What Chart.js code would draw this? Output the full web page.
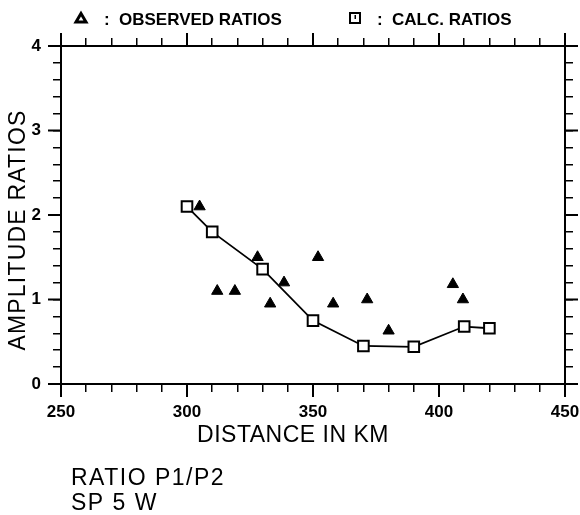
<!DOCTYPE html>
<html>
<head>
<meta charset="utf-8">
<script src="https://cdn.jsdelivr.net/npm/chart.js@4.4.1/dist/chart.umd.min.js"></script>
<style>
  html, body { margin: 0; padding: 0; background: #fff; }
  #wrap { width: 580px; height: 515px; }
</style>
</head>
<body>
<div id="wrap"><canvas id="grafico" width="580" height="515"></canvas></div>
<script>
// observed amplitude ratios (triangles)
const distObs = [305, 312, 319, 328, 333, 338.5, 352, 358, 371.5, 380, 405.5, 409.5];
const ratioObs = [2.1, 1.1, 1.1, 1.5, 0.95, 1.2, 1.5, 0.95, 1.0, 0.63, 1.18, 1.0];

// calculated ratios (squares joined by a line)
const distCalc = [300, 310, 330, 350, 370, 390, 410, 420];
const ratioCalc = [2.1, 1.8, 1.36, 0.75, 0.45, 0.44, 0.68, 0.66];

const xTicks = [250, 300, 350, 400, 450];
const yTicks = [0, 1, 2, 3, 4];

const NEGRO = "#000";
const FUENTE = "'Liberation Sans', Arial, sans-serif";

function esMayor(lista, v) {
  return lista.some(t => Math.abs(t - v) < 1e-6);
}

function fijarAncho(w) {
  return scale => { scale.width = w; scale.paddingTop = 0; scale.paddingBottom = 0; };
}
function fijarAlto(h) {
  return scale => { scale.height = h; scale.paddingLeft = 0; scale.paddingRight = 0; };
}

const rejilla = {
  drawOnChartArea: false,
  tickLength: 8,
  lineWidth: 1.5,
  color: NEGRO
};
const borde = { display: true, color: NEGRO, width: 2 };

// long ticks, legend and free texts
const marcos = {
  id: "marcos",
  afterDraw(chart) {
    const ctx = chart.ctx;
    const { left, right, top, bottom } = chart.chartArea;
    const sx = chart.scales.x;
    const sy = chart.scales.y;

    ctx.save();
    ctx.strokeStyle = NEGRO;
    ctx.fillStyle = NEGRO;
    ctx.lineWidth = 2;
    ctx.beginPath();
    xTicks.forEach(v => {
      const px = sx.getPixelForValue(v);
      ctx.moveTo(px, bottom); ctx.lineTo(px, bottom + 13);
      ctx.moveTo(px, top); ctx.lineTo(px, top - 13);
    });
    yTicks.forEach(v => {
      const py = sy.getPixelForValue(v);
      ctx.moveTo(left, py); ctx.lineTo(left - 13, py);
      ctx.moveTo(right, py); ctx.lineTo(right + 13, py);
    });
    ctx.stroke();

    // legend
    ctx.lineWidth = 3;
    ctx.lineJoin = "miter";
    ctx.beginPath();
    ctx.moveTo(81, 13.5); ctx.lineTo(86, 22); ctx.lineTo(76, 22); ctx.closePath();
    ctx.stroke();
    ctx.lineWidth = 2;
    ctx.strokeRect(350, 13, 10, 10);
    ctx.fillRect(354.5, 15, 1.5, 4);

    ctx.font = "bold 17px " + FUENTE;
    ctx.textBaseline = "alphabetic";
    ctx.textAlign = "left";
    ctx.fillText(":", 104, 25);
    ctx.fillText("OBSERVED RATIOS", 119, 25);
    ctx.fillText(":", 377, 25);
    ctx.fillText("CALC. RATIOS", 392, 25);

    // axis titles
    ctx.font = "23px " + FUENTE;
    ctx.textAlign = "center";
    ctx.textBaseline = "middle";
    ctx.letterSpacing = "0.5px";
    ctx.fillText("DISTANCE IN KM", 293, 436);

    ctx.save();
    ctx.letterSpacing = "1.2px";
    ctx.translate(19, 230);
    ctx.rotate(-Math.PI / 2);
    ctx.fillText("AMPLITUDE RATIOS", 0, 0);
    ctx.restore();

    // footnote
    ctx.textAlign = "left";
    ctx.letterSpacing = "1.5px";
    ctx.fillText("RATIO P1/P2", 71, 479);
    ctx.fillText("SP 5 W", 71, 504);
    ctx.restore();
  }
};

const ctx = document.getElementById("grafico").getContext("2d");

const grafico = new Chart(ctx, {
  type: "scatter",
  data: {
    datasets: [{
      label: "CALC. RATIOS",
      data: distCalc.map((d, i) => ({ x: d, y: ratioCalc[i] })),
      showLine: true,
      borderColor: NEGRO,
      borderWidth: 1.8,
      pointStyle: "rect",
      pointRadius: 7.5,
      pointBorderWidth: 2,
      pointBorderColor: NEGRO,
      pointBackgroundColor: "#fff",
      order: 2
    }, {
      label: "OBSERVED RATIOS",
      data: distObs.map((d, i) => ({ x: d, y: ratioObs[i] })),
      pointStyle: "triangle",
      pointRadius: 6.5,
      pointBorderWidth: 1,
      pointBorderColor: NEGRO,
      pointBackgroundColor: NEGRO,
      order: 1
    }]
  },
  options: {
    responsive: false,
    animation: false,
    layout: { padding: 0 },
    plugins: {
      legend: { display: false },
      tooltip: { enabled: false }
    },
    scales: {
      x: {
        type: "linear",
        position: "bottom",
        min: 250,
        max: 450,
        afterFit: fijarAlto(131),
        ticks: {
          stepSize: 10,
          autoSkip: false,
          maxRotation: 0,
          padding: 10,
          color: NEGRO,
          font: { family: FUENTE, size: 17, weight: "bold" },
          callback: v => esMayor(xTicks, v) ? String(v) : ""
        },
        grid: rejilla,
        border: borde
      },
      x2: {
        type: "linear",
        position: "top",
        min: 250,
        max: 450,
        afterFit: fijarAlto(46),
        ticks: { stepSize: 10, autoSkip: false, display: false },
        grid: rejilla,
        border: borde
      },
      y: {
        type: "linear",
        position: "left",
        min: 0,
        max: 4,
        afterFit: fijarAncho(61),
        ticks: {
          stepSize: 0.2,
          autoSkip: false,
          padding: 12,
          color: NEGRO,
          font: { family: FUENTE, size: 17, weight: "bold" },
          callback: v => esMayor(yTicks, v) ? String(Math.round(v)) : ""
        },
        grid: rejilla,
        border: borde
      },
      y2: {
        type: "linear",
        position: "right",
        min: 0,
        max: 4,
        afterFit: fijarAncho(15),
        ticks: { stepSize: 0.2, autoSkip: false, display: false },
        grid: rejilla,
        border: borde
      }
    }
  },
  plugins: [marcos]
});
</script>
</body>
</html>
